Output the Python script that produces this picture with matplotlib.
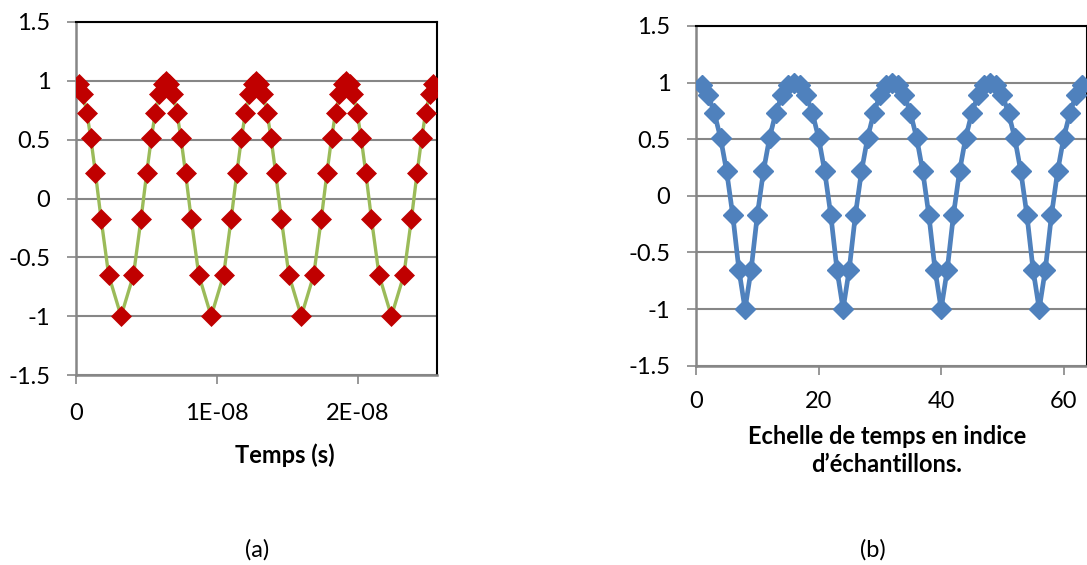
import matplotlib
matplotlib.use("Agg")
import matplotlib.pyplot as plt

plt.rcParams["font.family"] = ["Lato", "DejaVu Sans"]

# signal samples (same values in both panels)
sample_values = [
    0.975, 0.887, 0.73, 0.513, 0.216, -0.172, -0.651, -1.0,
    -0.651, -0.172, 0.216, 0.513, 0.73, 0.887, 0.975, 1.0,
    0.975, 0.887, 0.73, 0.513, 0.216, -0.172, -0.651, -1.0,
    -0.651, -0.172, 0.216, 0.513, 0.73, 0.887, 0.975, 1.0,
    0.975, 0.887, 0.73, 0.513, 0.216, -0.172, -0.651, -1.0,
    -0.651, -0.172, 0.216, 0.513, 0.73, 0.887, 0.975, 1.0,
    0.975, 0.887, 0.73, 0.513, 0.216, -0.172, -0.651, -1.0,
    -0.651, -0.172, 0.216, 0.513, 0.73, 0.887, 0.975,
]
sample_index = list(range(1, 64))
# sample times in ns
sample_time_ns = [
    0.23, 0.49, 0.77, 1.05, 1.38, 1.78, 2.32, 3.20,
    4.08, 4.62, 5.02, 5.35, 5.63, 5.91, 6.17, 6.40,
    6.63, 6.89, 7.17, 7.45, 7.78, 8.18, 8.72, 9.60,
    10.48, 11.02, 11.42, 11.75, 12.03, 12.31, 12.57, 12.80,
    13.03, 13.29, 13.57, 13.85, 14.18, 14.58, 15.12, 16.00,
    16.88, 17.42, 17.82, 18.15, 18.43, 18.71, 18.97, 19.20,
    19.43, 19.69, 19.97, 20.25, 20.58, 20.98, 21.52, 22.40,
    23.28, 23.82, 24.22, 24.55, 24.83, 25.11, 25.37,
]
sample_time = [t * 1e-9 for t in sample_time_ns]

y_ticks = [-1.5, -1, -0.5, 0, 0.5, 1, 1.5]
y_labels = ["-1.5", "-1", "-0.5", "0", "0.5", "1", "1.5"]
xa_ticks = [0, 1e-8, 2e-8]
xa_labels = ["0", "1E-08", "2E-08"]
xb_ticks = [0, 20, 40, 60]
xb_labels = ["0", "20", "40", "60"]

W, H = 1087, 565
FS = 17
fig = plt.figure(figsize=(W / 100, H / 100), dpi=100)

grid_col = "#868686"


def style(ax, xpad):
    ax.set_yticks(y_ticks)
    ax.set_yticklabels(y_labels)
    ax.set_ylim(-1.5, 1.5)
    ax.grid(axis="y", color=grid_col, linewidth=1.5)
    ax.set_axisbelow(True)
    for s in ["left", "bottom"]:
        ax.spines[s].set_color(grid_col)
        ax.spines[s].set_linewidth(1.8)
    for s in ["top", "right"]:
        ax.spines[s].set_color("black")
        ax.spines[s].set_linewidth(1.5)
    ax.tick_params(axis="y", direction="out", length=6.5, width=1.2, color=grid_col,
                   pad=12, labelsize=FS)
    ax.tick_params(axis="x", direction="out", length=6.5, width=1.2, color=grid_col,
                   pad=xpad, labelsize=FS)


# (a)
ax1 = fig.add_axes([76 / W, 1 - 375 / H, 360.5 / W, 353 / H])
ax1.plot(sample_time, sample_values, color="#9BBB59", linewidth=2.4,
         marker="D", markersize=10.5, markerfacecolor="#C00000",
         markeredgecolor="#C00000", markeredgewidth=0.5, zorder=3)
ax1.set_xlim(0, 2.56e-8)
ax1.set_xticks(xa_ticks)
ax1.set_xticklabels(xa_labels)
style(ax1, 14)

# (b)
ax2 = fig.add_axes([696 / W, 1 - 365.7 / H, 391 / W, 339.7 / H])
ax2.plot(sample_index, sample_values, color="#4F81BD", linewidth=3.4,
         marker="D", markersize=10.5, markerfacecolor="#4F81BD",
         markeredgecolor="#4F81BD", zorder=3)
ax2.set_xlim(0, 63.8)
ax2.set_xticks(xb_ticks)
ax2.set_xticklabels(xb_labels)
style(ax2, 12)

fig.text(285 / W, 1 - 455 / H, "Temps (s)", ha="center", va="center",
         fontsize=FS, fontweight="bold")
fig.text(886.7 / W, 1 - 436.7 / H, "Echelle de temps en indice", ha="center",
         va="center", fontsize=FS, fontweight="bold")
fig.text(886.7 / W, 1 - 465 / H, "d\u2019\u00e9chantillons.", ha="center",
         va="center", fontsize=FS, fontweight="bold")
fig.text(257 / W, 1 - 550 / H, "(a)", ha="center", va="center", fontsize=FS)
fig.text(873 / W, 1 - 550 / H, "(b)", ha="center", va="center", fontsize=FS)

fig.savefig("out.png", dpi=100)
